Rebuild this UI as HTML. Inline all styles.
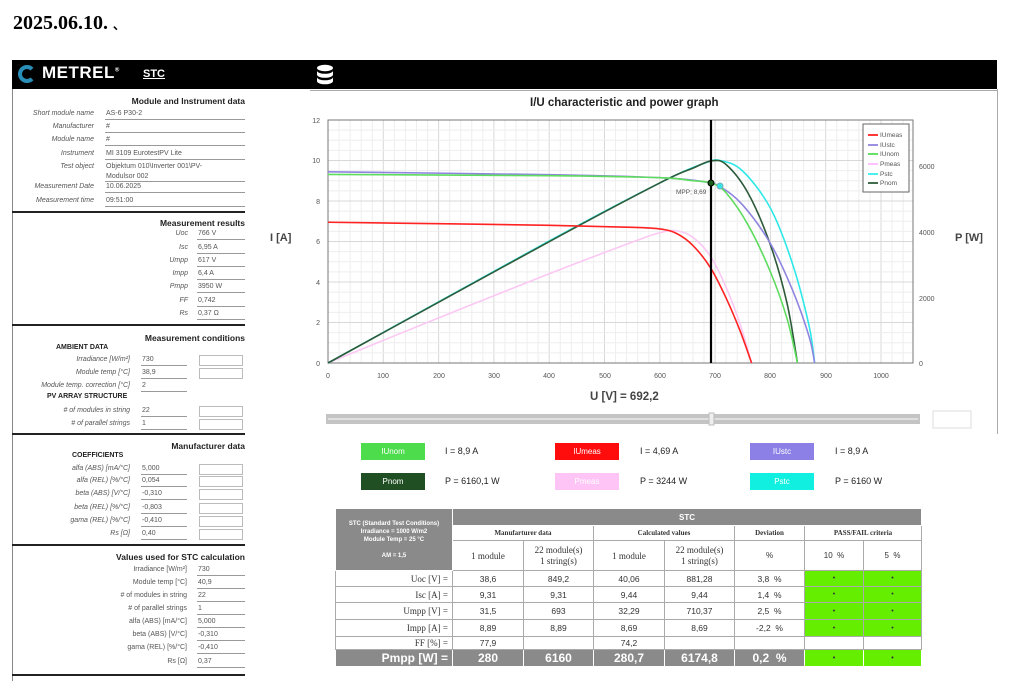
<!DOCTYPE html>
<html><head><meta charset="utf-8">
<style>
*{margin:0;padding:0;box-sizing:border-box}
body{width:1024px;height:687px;background:#fff;position:relative;overflow:hidden;font-family:"Liberation Sans",sans-serif;color:#333}
.a{position:absolute;white-space:nowrap}
.l{position:absolute;text-align:right;font-size:7px;font-style:italic;color:#555;height:12px;line-height:12px}
.v{position:absolute;font-size:7px;color:#555;height:12px;line-height:12px;border-bottom:1px solid #999;padding-left:1px}
.bx{position:absolute;border:1px solid #bbb;height:11px;width:44px}
.h{position:absolute;right:779px;font-size:8.5px;font-weight:bold;color:#222;text-align:right}
.sep{position:absolute;left:12px;width:233px;height:2px;background:#222}
.sub{position:absolute;font-size:7px;font-weight:bold;color:#222}
.btn{position:absolute;width:64px;height:17px;color:#fff;font-size:8px;text-align:center;line-height:17px}
.bt{position:absolute;font-size:9px;color:#222;line-height:17px}
table{position:absolute;left:335px;top:508px;border-collapse:collapse;table-layout:fixed;width:586px}
td{border:1px solid #aaa;text-align:center;font-size:8.5px;padding:0;color:#333;overflow:hidden}
.g{background:#8a8a8a;color:#fff;font-weight:bold;font-size:7px;border-color:#fff}
.s{font-family:"Liberation Serif",serif}
.sb{font-family:"Liberation Serif",serif;font-weight:bold;font-size:7px}
.rl{text-align:right;padding-right:4px;font-family:"Liberation Serif",serif;font-size:9px}
.gr{background:#66ee00;font-size:7px}
.pm td{background:#8a8a8a;color:#fff;font-weight:bold;font-size:12px;border-color:#fff}
.pm td.gr{background:#66ee00;color:#333;font-size:7px}
</style></head><body>
<div class="a" style="left:13px;top:12px;font-family:'Liberation Serif',serif;font-weight:bold;font-size:20px;color:#000">2025.06.10. <span style="font-size:12px">、</span></div>

<div class="a" style="left:12px;top:60px;width:985px;height:29px;background:#000"></div>
<div class="a" style="left:18px;top:65px;width:18px;height:18px;border-radius:50%;border:4px solid #2a8fb8;border-right-color:transparent"></div>
<div class="a" style="left:42px;top:63px;color:#fff;font-size:17px;font-weight:bold;letter-spacing:0.5px">METREL<sup style="font-size:6px">®</sup></div>
<div class="a" style="left:143px;top:68px;color:#fff;font-size:11px;font-weight:bold;text-decoration:underline">STC</div>
<svg class="a" style="left:316px;top:64px" width="18" height="22"><g fill="#fff"><ellipse cx="9" cy="4" rx="8" ry="3.2"/><path d="M1 6.5c0 2 3.5 3.3 8 3.3s8-1.3 8-3.3v4c0 2-3.5 3.3-8 3.3s-8-1.3-8-3.3z"/><path d="M1 13c0 2 3.5 3.3 8 3.3s8-1.3 8-3.3v4c0 2-3.5 3.3-8 3.3s-8-1.3-8-3.3z"/></g></svg>

<div class="a" style="left:12px;top:89px;width:1px;height:592px;background:#888"></div>
<div class="a" style="left:997px;top:89px;width:1px;height:345px;background:#aaa"></div>
<div class="a" style="left:310px;top:90px;width:687px;height:1px;background:#aaa"></div>

<!-- left panel -->
<div class="h" style="top:96px">Module and Instrument data</div>
<div class="l" style="left:10px;width:84px;top:108px">Short module name</div><div class="v" style="left:105px;width:140px;top:108px">AS-6 P30-2</div>
<div class="l" style="left:10px;width:84px;top:121px">Manufacturer</div><div class="v" style="left:105px;width:140px;top:121px">#</div>
<div class="l" style="left:10px;width:84px;top:134px">Module name</div><div class="v" style="left:105px;width:140px;top:134px">#</div>
<div class="l" style="left:10px;width:84px;top:148px">Instrument</div><div class="v" style="left:105px;width:140px;top:148px">MI 3109 EurotestPV Lite</div>
<div class="l" style="left:10px;width:84px;top:161px">Test object</div><div class="v" style="left:105px;width:140px;top:162px;height:20px;line-height:10px">Objektum 010\Inverter 001\PV-<br>Modulsor 002</div>
<div class="l" style="left:10px;width:84px;top:181px">Measurement Date</div><div class="v" style="left:105px;width:140px;top:181px">10.06.2025</div>
<div class="l" style="left:10px;width:84px;top:195px">Measurement time</div><div class="v" style="left:105px;width:140px;top:195px">09:51:00</div>
<div class="sep" style="top:211px"></div>

<div class="h" style="top:218px">Measurement results</div>
<div class="l" style="left:120px;width:68px;top:228px">Uoc</div><div class="v" style="left:197px;width:48px;top:228px">766 V</div>
<div class="l" style="left:120px;width:68px;top:242px">Isc</div><div class="v" style="left:197px;width:48px;top:242px">6,95 A</div>
<div class="l" style="left:120px;width:68px;top:255px">Umpp</div><div class="v" style="left:197px;width:48px;top:255px">617 V</div>
<div class="l" style="left:120px;width:68px;top:268px">Impp</div><div class="v" style="left:197px;width:48px;top:268px">6,4 A</div>
<div class="l" style="left:120px;width:68px;top:281px">Pmpp</div><div class="v" style="left:197px;width:48px;top:281px">3950 W</div>
<div class="l" style="left:120px;width:68px;top:295px">FF</div><div class="v" style="left:197px;width:48px;top:295px">0,742</div>
<div class="l" style="left:120px;width:68px;top:308px">Rs</div><div class="v" style="left:197px;width:48px;top:308px">0,37 Ω</div>
<div class="sep" style="top:324px"></div>

<div class="h" style="top:333px">Measurement conditions</div>
<div class="sub" style="left:56px;top:344px">AMBIENT DATA</div>
<div class="l" style="left:10px;width:120px;top:354px">Irradiance [W/m²]</div><div class="v" style="left:141px;width:46px;top:354px">730</div><div class="bx" style="left:199px;top:355px"></div>
<div class="l" style="left:10px;width:120px;top:367px">Module temp [°C]</div><div class="v" style="left:141px;width:46px;top:367px">38,9</div><div class="bx" style="left:199px;top:368px"></div>
<div class="l" style="left:10px;width:120px;top:380px">Module temp. correction [°C]</div><div class="v" style="left:141px;width:46px;top:380px">2</div>
<div class="sub" style="left:47px;top:393px">PV ARRAY STRUCTURE</div>
<div class="l" style="left:10px;width:120px;top:405px">#  of modules in string</div><div class="v" style="left:141px;width:46px;top:405px">22</div><div class="bx" style="left:199px;top:406px"></div>
<div class="l" style="left:10px;width:120px;top:418px"># of parallel strings</div><div class="v" style="left:141px;width:46px;top:418px">1</div><div class="bx" style="left:199px;top:419px"></div>
<div class="sep" style="top:433px"></div>

<div class="h" style="top:441px">Manufacturer data</div>
<div class="sub" style="left:72px;top:452px">COEFFICIENTS</div>
<div class="l" style="left:10px;width:120px;top:463px">alfa (ABS) [mA/°C]</div><div class="v" style="left:141px;width:46px;top:463px">5,000</div><div class="bx" style="left:199px;top:464px"></div>
<div class="l" style="left:10px;width:120px;top:475px">alfa (REL) [%/°C]</div><div class="v" style="left:141px;width:46px;top:475px">0,054</div><div class="bx" style="left:199px;top:476px"></div>
<div class="l" style="left:10px;width:120px;top:488px">beta (ABS) [V/°C]</div><div class="v" style="left:141px;width:46px;top:488px">-0,310</div><div class="bx" style="left:199px;top:489px"></div>
<div class="l" style="left:10px;width:120px;top:502px">beta (REL) [%/°C]</div><div class="v" style="left:141px;width:46px;top:502px">-0,803</div><div class="bx" style="left:199px;top:503px"></div>
<div class="l" style="left:10px;width:120px;top:515px">gama (REL) [%/°C]</div><div class="v" style="left:141px;width:46px;top:515px">-0,410</div><div class="bx" style="left:199px;top:516px"></div>
<div class="l" style="left:10px;width:120px;top:528px">Rs [Ω]</div><div class="v" style="left:141px;width:46px;top:528px">0,40</div><div class="bx" style="left:199px;top:529px"></div>
<div class="sep" style="top:544px"></div>

<div class="h" style="top:552px">Values used for STC calculation</div>
<div class="l" style="left:60px;width:127px;top:564px;font-style:normal">Irradiance [W/m²]</div><div class="v" style="left:197px;width:48px;top:564px">730</div>
<div class="l" style="left:60px;width:127px;top:577px;font-style:normal">Module temp [°C]</div><div class="v" style="left:197px;width:48px;top:577px">40,9</div>
<div class="l" style="left:60px;width:127px;top:590px;font-style:normal"># of modules in string</div><div class="v" style="left:197px;width:48px;top:590px">22</div>
<div class="l" style="left:60px;width:127px;top:603px;font-style:normal"># of parallel strings</div><div class="v" style="left:197px;width:48px;top:603px">1</div>
<div class="l" style="left:60px;width:127px;top:616px;font-style:normal">alfa (ABS) [mA/°C]</div><div class="v" style="left:197px;width:48px;top:616px">5,000</div>
<div class="l" style="left:60px;width:127px;top:629px;font-style:normal">beta (ABS) [V/°C]</div><div class="v" style="left:197px;width:48px;top:629px">-0,310</div>
<div class="l" style="left:60px;width:127px;top:642px;font-style:normal">gama (REL) [%/°C]</div><div class="v" style="left:197px;width:48px;top:642px">-0,410</div>
<div class="l" style="left:60px;width:127px;top:656px;font-style:normal">Rs [Ω]</div><div class="v" style="left:197px;width:48px;top:656px">0,37</div>
<div class="sep" style="top:674px"></div>

<!-- chart -->
<div class="a" style="left:530px;top:97px;font-size:11.5px;font-weight:bold;color:#222">I/U characteristic and power graph</div>
<div class="a" style="left:270px;top:232px;font-size:11px;font-weight:bold;color:#444">I [A]</div>
<div class="a" style="left:955px;top:232px;font-size:11px;font-weight:bold;color:#444">P [W]</div>
<div class="a" style="left:590px;top:391px;font-size:11.5px;font-weight:bold;color:#444">U [V] = 692,2</div>
<svg class="a" style="left:0;top:0" width="1024" height="687" id="ch">
<g id="grid"></g>
<rect x="328" y="120" width="585" height="243" fill="none" stroke="#777" stroke-width="1"/>
<g font-family="Liberation Sans, sans-serif" font-size="7" fill="#555">
<text x="320" y="123" text-anchor="end">12</text><text x="320" y="163" text-anchor="end">10</text><text x="320" y="204" text-anchor="end">8</text><text x="320" y="244" text-anchor="end">6</text><text x="320" y="285" text-anchor="end">4</text><text x="320" y="325" text-anchor="end">2</text><text x="320" y="366" text-anchor="end">0</text>
<text x="328" y="378" text-anchor="middle">0</text><text x="383" y="378" text-anchor="middle">100</text><text x="439" y="378" text-anchor="middle">200</text><text x="494" y="378" text-anchor="middle">300</text><text x="549" y="378" text-anchor="middle">400</text><text x="605" y="378" text-anchor="middle">500</text><text x="660" y="378" text-anchor="middle">600</text><text x="715" y="378" text-anchor="middle">700</text><text x="770" y="378" text-anchor="middle">800</text><text x="826" y="378" text-anchor="middle">900</text><text x="881" y="378" text-anchor="middle">1000</text>
<text x="919" y="366">0</text><text x="919" y="301">2000</text><text x="919" y="235">4000</text><text x="919" y="169">6000</text>
<text x="676" y="194" font-size="6.5">MPP; 8,69</text>
</g>
<g id="cv" fill="none" stroke-width="1.6"></g>
<line x1="711" y1="120" x2="711" y2="363" stroke="#000" stroke-width="2.2"/>
<circle cx="711" cy="183" r="3" fill="#1a5c1a" stroke="#000"/>
<circle cx="720" cy="186" r="3" fill="#33e6e6" stroke="#7ab"/>
<rect x="863" y="124" width="46" height="68" fill="#fff" stroke="#666"/>
<g font-family="Liberation Sans, sans-serif" font-size="6.5" fill="#555" stroke-width="1.8">
<line x1="868" y1="135" x2="878" y2="135" stroke="#f22"/><text x="880" y="137">IUmeas</text>
<line x1="868" y1="145" x2="878" y2="145" stroke="#8f85e0"/><text x="880" y="147">IUstc</text>
<line x1="868" y1="154" x2="878" y2="154" stroke="#5d5"/><text x="880" y="156">IUnom</text>
<line x1="868" y1="164" x2="878" y2="164" stroke="#fbf"/><text x="880" y="166">Pmeas</text>
<line x1="868" y1="174" x2="878" y2="174" stroke="#3ee"/><text x="880" y="176">Pstc</text>
<line x1="868" y1="183" x2="878" y2="183" stroke="#2e5e3a"/><text x="880" y="185">Pnom</text>
</g>
<rect x="326" y="414" width="594" height="10" fill="#c4c4c4"/>
<line x1="328" y1="419" x2="918" y2="419" stroke="#e0e0e0" stroke-width="2"/>
<rect x="709" y="413" width="5" height="12" fill="#eee" stroke="#bbb"/>
<rect x="933" y="411" width="38" height="17" fill="#fff" stroke="#ddd"/>
</svg>

<div class="btn" style="left:361px;top:443px;background:#4cdc4c">IUnom</div><div class="bt" style="left:445px;top:443px">I =  8,9 A</div>
<div class="btn" style="left:555px;top:443px;background:#ff0d0d">IUmeas</div><div class="bt" style="left:640px;top:443px">I =  4,69 A</div>
<div class="btn" style="left:750px;top:443px;background:#8c80e6">IUstc</div><div class="bt" style="left:835px;top:443px">I =  8,9 A</div>
<div class="btn" style="left:361px;top:473px;background:#1f4f22">Pnom</div><div class="bt" style="left:445px;top:473px">P =  6160,1 W</div>
<div class="btn" style="left:555px;top:473px;background:#ffc4f6">Pmeas</div><div class="bt" style="left:640px;top:473px">P =  3244 W</div>
<div class="btn" style="left:750px;top:473px;background:#11f0e0">Pstc</div><div class="bt" style="left:835px;top:473px">P =  6160 W</div>

<table>
<colgroup><col style="width:117px"><col style="width:71px"><col style="width:70px"><col style="width:71px"><col style="width:70px"><col style="width:70px"><col style="width:59px"><col style="width:58px"></colgroup>
<tr style="height:17px"><td class="g" rowspan="3" style="font-size:6px;line-height:8px">STC (Standard Test Conditions)<br>Irradiance = 1000 W/m2<br>Module Temp = 25 °C<br><br>AM = 1,5</td><td class="g" colspan="7" style="font-size:8px">STC</td></tr>
<tr style="height:15px"><td class="sb" colspan="2">Manufarturer data</td><td class="sb" colspan="2">Calculated values</td><td class="sb">Deviation</td><td class="sb" colspan="2">PASS/FAIL criteria</td></tr>
<tr style="height:30px"><td class="s" style="font-size:9px">1 module</td><td class="s" style="font-size:9px;line-height:11px">22 module(s)<br>1 string(s)</td><td class="s" style="font-size:9px">1 module</td><td class="s" style="font-size:9px;line-height:11px">22 module(s)<br>1 string(s)</td><td style="font-size:8px">%</td><td style="font-size:8px">10 &nbsp;%</td><td style="font-size:8px">5 &nbsp;%</td></tr>
<tr style="height:16px"><td class="rl">Uoc [V] =</td><td>38,6</td><td>849,2</td><td>40,06</td><td>881,28</td><td>3,8 &nbsp;%</td><td class="gr">•</td><td class="gr">•</td></tr>
<tr style="height:16px"><td class="rl">Isc [A] =</td><td>9,31</td><td>9,31</td><td>9,44</td><td>9,44</td><td>1,4 &nbsp;%</td><td class="gr">•</td><td class="gr">•</td></tr>
<tr style="height:17px"><td class="rl">Umpp [V] =</td><td>31,5</td><td>693</td><td>32,29</td><td>710,37</td><td>2,5 &nbsp;%</td><td class="gr">•</td><td class="gr">•</td></tr>
<tr style="height:17px"><td class="rl">Impp [A] =</td><td>8,89</td><td>8,89</td><td>8,69</td><td>8,69</td><td>-2,2 &nbsp;%</td><td class="gr">•</td><td class="gr">•</td></tr>
<tr style="height:13px"><td class="rl">FF [%] =</td><td>77,9</td><td></td><td>74,2</td><td></td><td></td><td></td><td></td></tr>
<tr class="pm" style="height:17px"><td style="text-align:right;padding-right:4px">Pmpp [W] =</td><td>280</td><td>6160</td><td>280,7</td><td>6174,8</td><td>0,2 &nbsp;%</td><td class="gr">•</td><td class="gr">•</td></tr>
</table>

<script>
(function(){
function X(u){return 328+0.553*u}
function YI(i){return 363-20.25*i}
function YP(p){return 363-0.0328*p}
var g=document.getElementById("grid"),s="";
for(var u=0;u<=1060;u+=20){var x=X(u);if(x>913)break;s+='<line x1="'+x+'" y1="120" x2="'+x+'" y2="363" stroke="'+(u%100?"#eee":"#d8d8d8")+'" stroke-width="1"/>';}
for(var i=0;i<=12;i+=0.5){var y=YI(i);s+='<line x1="328" y1="'+y+'" x2="913" y2="'+y+'" stroke="'+(i%2?"#eee":"#d8d8d8")+'" stroke-width="1"/>';}
g.innerHTML=s;
function curve(pts,col,pw){
 var P=pts.map(function(p){return [X(p[0]),pw?YP(p[1]):YI(p[1])]});
 var d="M"+P[0][0]+" "+P[0][1];
 for(var k=0;k<P.length-1;k++){
  var p0=P[k-1]||P[k],p1=P[k],p2=P[k+1],p3=P[k+2]||P[k+1];
  var c1=[p1[0]+(p2[0]-p0[0])/6,p1[1]+(p2[1]-p0[1])/6],c2=[p2[0]-(p3[0]-p1[0])/6,p2[1]-(p3[1]-p1[1])/6];
  d+=" C"+c1[0]+" "+c1[1]+" "+c2[0]+" "+c2[1]+" "+p2[0]+" "+p2[1];
 }
 return '<path d="'+d+'" stroke="'+col+'"/>';
}
function pw(a){return a.map(function(p){return [p[0],p[0]*p[1]]})}
var meas=[[0,6.95],[200,6.88],[400,6.8],[550,6.7],[600,6.62],[630,6.4],[660,5.8],[692,4.69],[720,3.2],[745,1.6],[766,0]];
var stc=[[0,9.44],[400,9.3],[600,9.15],[680,8.95],[710,8.69],[750,7.8],[800,5.9],[840,3.6],[870,1.3],[880,0]];
var nom=[[0,9.31],[400,9.25],[600,9.15],[660,9.0],[693,8.89],[720,8.4],[760,6.8],[800,4.5],[830,2.2],[849,0]];
var h="";
h+=curve(pw(meas),"#fbc8f4",1);
h+=curve(pw(stc),"#2ee8e8",1);
h+=curve(pw(nom),"#2e5a3a",1);
h+=curve(stc,"#8f85e0",0);
h+=curve(nom,"#5ddc5d",0);
h+=curve(meas,"#f22",0);
document.getElementById("cv").innerHTML=h;
})();
</script>
</body></html>
